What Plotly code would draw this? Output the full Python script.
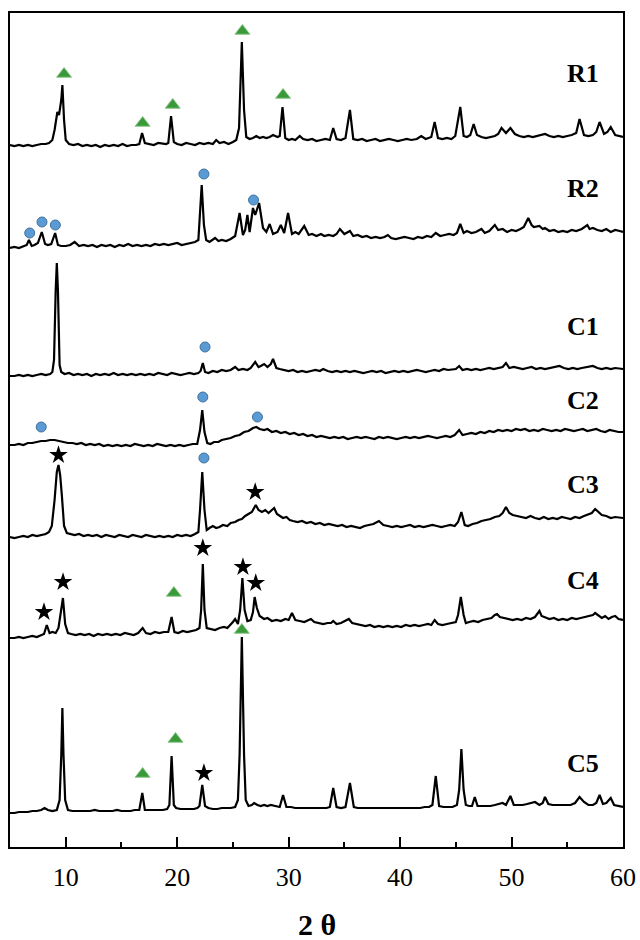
import plotly.graph_objects as go

# ---------------- data: (2θ in degrees, intensity in a.u. above each pattern's zero) -------------
samples = ["R1", "R2", "C1", "C2", "C3", "C4", "C5"]
offsets = [697, 597, 467, 397, 307, 207, 32]   # vertical stacking offset of each pattern

R1 = [(5.0, 5), (5.4, 4), (5.8, 5), (6.2, 4), (6.6, 5), (7.0, 4), (7.4, 5), (7.8, 6), (8.2, 6), (8.5, 7), (8.8, 10),
      (9.0, 20), (9.25, 38), (9.4, 35), (9.6, 50), (9.7, 65), (9.85, 30), (10.0, 10), (10.3, 6), (10.7, 5), (11.1, 6),
      (11.5, 4), (11.9, 5), (12.3, 4), (12.7, 5), (13.1, 3), (13.5, 5), (13.9, 4), (14.3, 5), (14.7, 4), (15.1, 6),
      (15.5, 4), (15.9, 5), (16.3, 5), (16.6, 6), (16.85, 17), (17.1, 7), (17.5, 6), (17.9, 5), (18.3, 7), (18.7, 6),
      (19.0, 6), (19.2, 7), (19.45, 34), (19.7, 8), (20.0, 6), (20.4, 5), (20.8, 7), (21.2, 6), (21.6, 5), (22.0, 7),
      (22.4, 6), (22.8, 7), (23.2, 6), (23.5, 10), (23.8, 7), (24.2, 8), (24.6, 6), (25.0, 8), (25.3, 10),
      (25.55, 22), (25.8, 108), (26.0, 40), (26.2, 13), (26.5, 11), (26.8, 12), (27.1, 14), (27.4, 12), (27.7, 13),
      (28.0, 12), (28.3, 13), (28.6, 15), (29.0, 13), (29.2, 14), (29.45, 43), (29.7, 12), (30.0, 10), (30.3, 11),
      (30.6, 10), (31.0, 14), (31.3, 11), (31.7, 10), (32.1, 11), (32.5, 9), (32.9, 10), (33.3, 11), (33.7, 10),
      (34.0, 22), (34.3, 11), (34.7, 10), (35.1, 12), (35.5, 40), (35.8, 11), (36.2, 10), (36.6, 11), (37.0, 9),
      (37.4, 10), (37.8, 11), (38.2, 9), (38.6, 10), (39.0, 11), (39.4, 10), (39.8, 9), (40.2, 10), (40.6, 11),
      (41.0, 10), (41.5, 11), (41.9, 14), (42.3, 11), (42.8, 13), (43.1, 28), (43.4, 12), (43.8, 11), (44.2, 12),
      (44.6, 11), (44.95, 14), (45.4, 43), (45.7, 14), (46.0, 13), (46.3, 15), (46.6, 26), (46.9, 15), (47.3, 13),
      (47.7, 12), (48.1, 13), (48.5, 14), (48.8, 16), (49.1, 22), (49.5, 17), (49.9, 22), (50.3, 16), (50.7, 14),
      (51.1, 13), (51.5, 14), (51.9, 13), (52.3, 14), (52.7, 15), (53.0, 16), (53.4, 14), (53.8, 13), (54.2, 14),
      (54.6, 13), (55.0, 14), (55.4, 15), (55.8, 17), (56.1, 31), (56.5, 15), (56.9, 14), (57.3, 15), (57.6, 18),
      (57.9, 28), (58.3, 16), (58.6, 18), (58.9, 23), (59.3, 15), (59.7, 14), (60.0, 13)]

R2 = [(5.0, 2), (5.4, 3), (5.8, 2), (6.2, 4), (6.5, 5), (6.7, 10), (6.95, 4), (7.2, 5), (7.5, 7), (7.85, 18),
      (8.15, 6), (8.4, 5), (8.7, 6), (9.05, 17), (9.3, 5), (9.6, 4), (10.0, 4), (10.4, 5), (10.8, 8), (11.2, 4),
      (11.6, 5), (12.0, 4), (12.4, 5), (12.8, 3), (13.2, 5), (13.6, 4), (14.0, 5), (14.4, 3), (14.8, 5), (15.2, 4),
      (15.6, 6), (16.0, 4), (16.4, 5), (16.8, 4), (17.2, 5), (17.6, 4), (18.0, 6), (18.4, 5), (18.8, 6), (19.2, 5),
      (19.6, 6), (20.0, 7), (20.4, 5), (20.8, 6), (21.2, 7), (21.6, 8), (21.9, 10), (22.05, 35), (22.2, 65),
      (22.4, 25), (22.6, 10), (22.9, 8), (23.2, 10), (23.4, 12), (23.7, 9), (24.0, 10), (24.4, 9), (24.8, 11),
      (25.2, 14), (25.6, 37), (25.9, 15), (26.1, 20), (26.3, 35), (26.5, 18), (26.8, 42), (27.0, 35), (27.35, 47),
      (27.7, 22), (28.0, 18), (28.3, 26), (28.6, 16), (29.0, 18), (29.3, 25), (29.6, 17), (29.95, 37), (30.3, 16),
      (30.6, 18), (30.9, 16), (31.4, 24), (31.8, 15), (32.1, 16), (32.5, 14), (32.9, 16), (33.2, 14), (33.6, 15),
      (34.0, 14), (34.3, 16), (34.6, 21), (35.0, 16), (35.5, 19), (35.8, 14), (36.2, 15), (36.6, 13), (37.0, 14),
      (37.4, 12), (37.8, 13), (38.2, 12), (38.6, 13), (38.9, 15), (39.2, 12), (39.6, 11), (40.0, 12), (40.4, 13),
      (40.8, 12), (41.2, 11), (41.6, 13), (42.0, 12), (42.4, 14), (42.8, 13), (43.2, 17), (43.6, 14), (44.0, 15),
      (44.4, 16), (44.8, 15), (45.1, 17), (45.4, 26), (45.7, 17), (46.0, 19), (46.4, 17), (46.8, 18), (47.3, 21),
      (47.6, 17), (48.0, 19), (48.5, 25), (48.8, 20), (49.2, 21), (49.6, 18), (50.0, 20), (50.4, 19), (50.8, 21),
      (51.1, 23), (51.5, 32), (51.8, 25), (52.0, 23), (52.5, 24), (52.8, 21), (53.0, 22), (53.4, 19), (53.8, 20),
      (54.2, 18), (54.6, 19), (55.0, 18), (55.4, 20), (55.8, 19), (56.3, 21), (56.8, 25), (57.0, 21), (57.3, 22),
      (57.7, 20), (58.1, 19), (58.5, 21), (58.9, 18), (59.3, 20), (59.7, 19), (60.0, 18)]

C1 = [(5.0, 4), (5.4, 4), (5.8, 5), (6.2, 4), (6.6, 5), (7.0, 4), (7.4, 5), (7.8, 6), (8.2, 5), (8.6, 6), (8.8, 8),
      (8.95, 20), (9.1, 90), (9.2, 117), (9.3, 90), (9.45, 15), (9.6, 8), (9.9, 6), (10.3, 7), (10.7, 5), (11.1, 6),
      (11.5, 5), (11.9, 6), (12.3, 4), (12.7, 6), (13.1, 5), (13.5, 6), (13.9, 5), (14.3, 7), (14.7, 5), (15.1, 6),
      (15.5, 5), (15.9, 6), (16.3, 5), (16.7, 6), (17.1, 5), (17.5, 6), (17.9, 5), (18.3, 7), (18.7, 6), (19.1, 5),
      (19.5, 7), (19.9, 6), (20.3, 5), (20.7, 6), (21.1, 7), (21.5, 6), (21.9, 7), (22.1, 9), (22.3, 17), (22.5, 8),
      (22.8, 7), (23.2, 9), (23.6, 8), (24.0, 10), (24.4, 9), (24.8, 10), (25.2, 13), (25.5, 10), (25.9, 11),
      (26.3, 10), (26.6, 12), (27.0, 18), (27.3, 13), (27.5, 14), (27.8, 16), (28.1, 13), (28.4, 16), (28.6, 21),
      (28.9, 12), (29.2, 11), (29.6, 10), (30.0, 9), (30.4, 10), (30.8, 8), (31.2, 9), (31.6, 8), (32.0, 9),
      (32.4, 10), (32.8, 9), (33.1, 11), (33.5, 9), (33.9, 8), (34.3, 9), (34.7, 8), (35.1, 9), (35.5, 8), (35.9, 9),
      (36.3, 8), (36.7, 7), (37.1, 8), (37.5, 9), (37.9, 8), (38.3, 9), (38.7, 7), (39.1, 8), (39.5, 9), (39.9, 8),
      (40.3, 9), (40.7, 8), (41.1, 9), (41.5, 10), (41.9, 9), (42.3, 8), (42.7, 9), (43.1, 10), (43.5, 9), (43.9, 11),
      (44.3, 10), (44.7, 11), (45.0, 11), (45.3, 14), (45.6, 10), (46.0, 11), (46.4, 10), (46.8, 11), (47.2, 10),
      (47.6, 11), (48.0, 12), (48.4, 11), (48.8, 12), (49.2, 13), (49.5, 17), (49.8, 12), (50.2, 13), (50.6, 12),
      (51.0, 11), (51.4, 12), (51.8, 13), (52.2, 11), (52.6, 12), (53.0, 11), (53.4, 12), (53.8, 13), (54.3, 14),
      (54.7, 12), (55.1, 11), (55.5, 12), (55.9, 11), (56.3, 12), (56.7, 13), (57.0, 13), (57.3, 14), (57.7, 12),
      (58.1, 11), (58.5, 12), (58.9, 11), (59.3, 12), (59.7, 11), (60.0, 11)]

C2 = [(5.0, 5), (5.4, 5), (5.8, 6), (6.2, 5), (6.6, 7), (7.0, 7), (7.4, 8), (7.8, 9), (8.2, 9), (8.6, 10), (9.0, 10),
      (9.4, 9), (9.8, 8), (10.2, 7), (10.6, 7), (11.0, 6), (11.4, 7), (11.8, 5), (12.2, 6), (12.6, 5), (13.0, 6),
      (13.4, 4), (13.8, 5), (14.2, 4), (14.6, 5), (15.0, 4), (15.4, 5), (15.8, 4), (16.2, 6), (16.6, 5), (17.0, 4),
      (17.4, 5), (17.8, 4), (18.2, 6), (18.6, 5), (19.0, 4), (19.4, 5), (19.8, 4), (20.2, 5), (20.6, 4), (21.0, 5),
      (21.4, 6), (21.8, 6), (22.05, 20), (22.25, 40), (22.45, 18), (22.7, 7), (23.0, 6), (23.3, 8), (23.7, 8),
      (24.0, 10), (24.4, 11), (24.8, 12), (25.2, 14), (25.6, 15), (26.0, 18), (26.4, 19), (26.8, 22), (27.1, 23),
      (27.4, 21), (27.8, 20), (28.1, 21), (28.5, 18), (28.9, 19), (29.3, 17), (29.7, 18), (30.1, 16), (30.5, 17),
      (30.9, 15), (31.3, 16), (31.7, 14), (32.1, 15), (32.5, 13), (32.9, 14), (33.3, 13), (33.7, 12), (34.1, 13),
      (34.5, 12), (34.9, 13), (35.3, 11), (35.7, 12), (36.1, 13), (36.5, 12), (36.9, 13), (37.3, 12), (37.7, 11),
      (38.1, 13), (38.5, 12), (38.9, 13), (39.3, 12), (39.7, 11), (40.1, 12), (40.5, 13), (40.9, 12), (41.3, 13),
      (41.7, 12), (42.1, 13), (42.5, 14), (42.9, 13), (43.3, 12), (43.7, 13), (44.1, 14), (44.5, 13), (44.9, 15),
      (45.3, 20), (45.6, 15), (46.0, 16), (46.4, 17), (46.8, 16), (47.2, 18), (47.6, 17), (48.0, 19), (48.4, 18),
      (48.8, 20), (49.2, 19), (49.6, 20), (50.0, 19), (50.4, 21), (50.8, 20), (51.2, 21), (51.6, 19), (52.0, 20),
      (52.4, 19), (52.8, 21), (53.2, 20), (53.6, 19), (54.0, 20), (54.4, 19), (54.8, 21), (55.2, 20), (55.6, 19),
      (56.0, 20), (56.4, 21), (56.8, 19), (57.2, 20), (57.6, 21), (58.0, 19), (58.4, 18), (58.8, 20), (59.2, 19),
      (59.6, 18), (60.0, 18)]

C3 = [(5.0, 3), (5.4, 2), (5.8, 3), (6.2, 4), (6.6, 3), (7.0, 5), (7.4, 4), (7.8, 5), (8.2, 6), (8.5, 8), (8.75, 14),
      (9.0, 40), (9.2, 68), (9.35, 75), (9.5, 65), (9.65, 45), (9.85, 14), (10.1, 7), (10.4, 6), (10.8, 5), (11.2, 6),
      (11.6, 4), (12.0, 5), (12.4, 4), (12.8, 5), (13.2, 3), (13.6, 5), (14.0, 4), (14.4, 3), (14.8, 5), (15.2, 4),
      (15.6, 3), (16.0, 5), (16.4, 4), (16.8, 3), (17.2, 5), (17.6, 4), (18.0, 3), (18.4, 4), (18.8, 3), (19.2, 4),
      (19.6, 3), (20.0, 5), (20.4, 4), (20.8, 5), (21.2, 4), (21.6, 6), (21.9, 8), (22.05, 30), (22.25, 68),
      (22.45, 30), (22.65, 10), (22.9, 12), (23.2, 14), (23.5, 12), (23.8, 13), (24.1, 15), (24.5, 14), (24.8, 17),
      (25.2, 18), (25.5, 20), (25.8, 21), (26.1, 24), (26.4, 26), (26.7, 28), (27.05, 35), (27.3, 30), (27.6, 28),
      (27.9, 30), (28.2, 27), (28.45, 30), (28.7, 32), (28.95, 26), (29.2, 24), (29.5, 22), (29.8, 23), (30.1, 20),
      (30.4, 19), (30.8, 18), (31.2, 19), (31.6, 17), (32.0, 18), (32.4, 16), (32.8, 17), (33.2, 15), (33.6, 16),
      (34.0, 15), (34.4, 14), (34.8, 15), (35.2, 13), (35.6, 14), (36.0, 13), (36.4, 12), (36.8, 14), (37.2, 15),
      (37.6, 16), (38.1, 19), (38.5, 15), (38.9, 14), (39.3, 13), (39.7, 14), (40.1, 13), (40.5, 14), (40.9, 15),
      (41.3, 13), (41.7, 14), (42.1, 13), (42.5, 14), (42.9, 15), (43.3, 14), (43.7, 13), (44.1, 14), (44.5, 15),
      (44.9, 14), (45.2, 18), (45.5, 28), (45.8, 15), (46.1, 14), (46.5, 16), (46.9, 17), (47.3, 19), (47.7, 20),
      (48.1, 21), (48.5, 23), (48.9, 24), (49.2, 27), (49.5, 33), (49.8, 27), (50.1, 25), (50.5, 24), (50.9, 23),
      (51.3, 22), (51.7, 24), (52.1, 22), (52.5, 21), (52.9, 23), (53.3, 21), (53.7, 22), (54.1, 21), (54.5, 23),
      (54.9, 22), (55.3, 21), (55.7, 23), (56.1, 22), (56.5, 24), (56.9, 26), (57.2, 27), (57.5, 31), (57.8, 28),
      (58.1, 25), (58.5, 24), (58.9, 22), (59.3, 23), (59.7, 22), (60.0, 22)]

C4 = [(5.0, 2), (5.4, 2), (5.8, 3), (6.2, 2), (6.6, 3), (7.0, 4), (7.4, 3), (7.8, 5), (8.05, 6), (8.3, 15),
      (8.55, 7), (8.8, 8), (9.1, 7), (9.35, 12), (9.55, 25), (9.75, 42), (9.95, 16), (10.2, 7), (10.5, 6), (10.9, 5),
      (11.3, 6), (11.7, 5), (12.1, 6), (12.5, 4), (12.9, 6), (13.3, 5), (13.7, 6), (14.1, 5), (14.5, 6), (14.9, 5),
      (15.3, 7), (15.7, 6), (16.1, 5), (16.5, 7), (16.9, 12), (17.2, 7), (17.6, 6), (18.0, 8), (18.4, 7), (18.8, 8),
      (19.2, 8), (19.5, 23), (19.75, 8), (20.1, 7), (20.5, 9), (20.9, 8), (21.3, 9), (21.7, 10), (22.0, 12),
      (22.15, 30), (22.3, 76), (22.45, 30), (22.65, 12), (23.0, 11), (23.4, 10), (23.8, 12), (24.2, 13), (24.5, 12),
      (24.8, 15), (25.0, 18), (25.2, 21), (25.45, 16), (25.65, 30), (25.85, 62), (26.05, 30), (26.3, 19), (26.6, 20),
      (26.8, 28), (26.95, 43), (27.15, 32), (27.4, 24), (27.8, 21), (28.1, 22), (28.5, 19), (28.9, 20), (29.3, 19),
      (29.7, 21), (30.0, 20), (30.3, 27), (30.6, 20), (31.0, 19), (31.4, 18), (31.8, 20), (32.0, 21), (32.3, 18),
      (32.7, 17), (33.1, 16), (33.5, 17), (33.8, 17), (34.0, 19), (34.3, 16), (34.7, 17), (35.1, 19), (35.4, 21),
      (35.7, 17), (36.1, 16), (36.5, 15), (36.9, 14), (37.3, 15), (37.7, 13), (38.1, 14), (38.5, 13), (38.9, 14),
      (39.3, 13), (39.7, 14), (40.1, 13), (40.5, 15), (40.9, 14), (41.3, 15), (41.7, 14), (42.1, 15), (42.5, 16),
      (42.8, 15), (43.1, 20), (43.4, 16), (43.8, 15), (44.2, 16), (44.6, 17), (45.0, 18), (45.2, 25), (45.45, 43),
      (45.7, 25), (45.9, 17), (46.2, 18), (46.6, 19), (47.0, 18), (47.4, 20), (47.8, 21), (48.2, 22), (48.5, 25),
      (48.7, 26), (48.95, 23), (49.3, 22), (49.7, 21), (50.1, 20), (50.5, 21), (50.9, 20), (51.3, 22), (51.7, 21),
      (52.1, 23), (52.3, 26), (52.5, 29), (52.7, 24), (53.0, 23), (53.4, 21), (53.8, 22), (54.2, 20), (54.6, 21),
      (55.0, 20), (55.4, 22), (55.8, 21), (56.2, 22), (56.6, 23), (57.0, 24), (57.3, 25), (57.5, 27), (57.8, 24),
      (58.1, 22), (58.4, 24), (58.7, 21), (59.0, 23), (59.3, 24), (59.6, 21), (60.0, 20)]

C5 = [(5.0, 2), (5.4, 2), (5.8, 3), (6.2, 3), (6.6, 3), (7.0, 4), (7.4, 4), (7.8, 5), (8.1, 7), (8.4, 5), (8.8, 4),
      (9.2, 5), (9.45, 15), (9.6, 60), (9.7, 107), (9.8, 60), (9.95, 15), (10.2, 5), (10.6, 4), (11.0, 4), (11.4, 4),
      (11.8, 4), (12.2, 4), (12.6, 5), (13.0, 4), (13.4, 4), (13.8, 4), (14.2, 4), (14.6, 5), (15.0, 4), (15.4, 4),
      (15.8, 4), (16.2, 5), (16.6, 5), (16.87, 22), (17.1, 5), (17.5, 5), (17.9, 5), (18.3, 5), (18.7, 5), (19.1, 6),
      (19.3, 10), (19.5, 59), (19.7, 10), (19.9, 7), (20.3, 6), (20.7, 6), (21.1, 6), (21.5, 6), (21.8, 7), (22.0, 9),
      (22.25, 30), (22.5, 9), (22.8, 7), (23.2, 6), (23.6, 6), (24.0, 7), (24.4, 7), (24.8, 7), (25.2, 8),
      (25.45, 15), (25.6, 60), (25.8, 178), (26.0, 60), (26.15, 15), (26.4, 9), (26.7, 10), (26.9, 12), (27.2, 10),
      (27.5, 9), (27.8, 10), (28.1, 9), (28.4, 10), (28.8, 9), (29.2, 8), (29.5, 20), (29.8, 8), (30.2, 8), (30.6, 7),
      (31.0, 7), (31.4, 7), (31.8, 7), (32.2, 7), (32.6, 7), (33.0, 7), (33.4, 7), (33.7, 8), (34.0, 27), (34.3, 8),
      (34.7, 7), (35.1, 8), (35.5, 32), (35.85, 8), (36.2, 7), (36.6, 7), (37.0, 7), (37.4, 7), (37.8, 7), (38.2, 7),
      (38.6, 7), (39.0, 7), (39.4, 7), (39.8, 7), (40.2, 7), (40.6, 7), (41.0, 7), (41.4, 7), (41.8, 7), (42.2, 8),
      (42.6, 8), (42.9, 10), (43.2, 39), (43.5, 9), (43.9, 8), (44.3, 8), (44.7, 8), (45.1, 10), (45.3, 25),
      (45.5, 66), (45.7, 25), (45.9, 10), (46.2, 9), (46.45, 9), (46.7, 18), (46.95, 9), (47.3, 9), (47.7, 9),
      (48.1, 9), (48.5, 10), (48.9, 11), (49.2, 12), (49.5, 10), (49.9, 19), (50.2, 10), (50.6, 10), (51.0, 10),
      (51.4, 11), (51.8, 12), (52.1, 13), (52.5, 10), (52.8, 12), (53.0, 18), (53.3, 11), (53.7, 10), (54.1, 10),
      (54.5, 10), (54.9, 10), (55.3, 10), (55.7, 12), (56.1, 18), (56.5, 13), (56.9, 10), (57.3, 10), (57.6, 12),
      (57.9, 20), (58.2, 11), (58.5, 12), (58.9, 17), (59.2, 10), (59.6, 9), (60.0, 8)]

patterns = [R1, R2, C1, C2, C3, C4, C5]

# phase markers: sample, 2θ, intensity (a.u. above that pattern's zero)
tri_sample = ["R1", "R1", "R1", "R1", "R1", "C4", "C5", "C5", "C5"]
tri_tt = [9.85, 16.9, 19.6, 25.85, 29.5, 19.7, 16.9, 19.85, 25.8]
tri_I = [76, 27, 45, 119, 55, 47, 41, 76, 185]

cir_sample = ["R2", "R2", "R2", "R2", "R2", "C1", "C2", "C2", "C2", "C3"]
cir_tt = [6.77, 7.87, 9.07, 22.4, 26.85, 22.5, 7.8, 22.3, 27.2, 22.4]
cir_I = [17, 28, 25, 76, 50, 33, 23, 53, 33, 82]

star_sample = ["C3", "C3", "C4", "C4", "C4", "C4", "C4", "C5"]
star_tt = [9.35, 27.0, 8.05, 9.76, 22.3, 25.9, 27.05, 22.4]
star_I = [85, 48, 28, 58, 92, 73, 57, 42]

label_I = [77, 62, 54, 50, 56, 60, 52]   # label heights above each pattern's zero

x_ticks = [10, 20, 30, 40, 50, 60]

# ---------------- figure ----------------
SERIF = "Liberation Serif, Times New Roman, serif"
off = dict(zip(samples, offsets))
fig = go.Figure()

for name, pts in zip(samples, patterns):
    tt = [p[0] for p in pts]
    inten = [p[1] + off[name] for p in pts]
    fig.add_trace(go.Scatter(x=tt, y=inten, mode="lines", line=dict(color="black", width=2.2),
                             showlegend=False, hoverinfo="skip"))

fig.add_trace(go.Scatter(x=tri_tt, y=[v + off[s] for s, v in zip(tri_sample, tri_I)], mode="markers",
                         marker=dict(symbol="triangle-up", size=13, color="#3a9a3a",
                                     line=dict(color="#8cc68c", width=1)), showlegend=False))
fig.add_trace(go.Scatter(x=cir_tt, y=[v + off[s] for s, v in zip(cir_sample, cir_I)], mode="markers",
                         marker=dict(symbol="circle", size=10, color="#5b9bd5",
                                     line=dict(color="#41719c", width=1)), showlegend=False))
fig.add_trace(go.Scatter(x=star_tt, y=[v + off[s] for s, v in zip(star_sample, star_I)], mode="markers",
                         marker=dict(symbol="star", size=14, color="black", line=dict(width=0)),
                         showlegend=False))

for name, h in zip(samples, label_I):
    fig.add_annotation(x=54.8, y=off[name] + h, text=f"<b>{name}</b>", showarrow=False,
                       xanchor="left", yanchor="middle",
                       font=dict(family=SERIF, size=26, color="black"))

fig.add_annotation(x=0.5, y=-0.093, xref="paper", yref="paper", text="<b>2 θ</b>", showarrow=False,
                   xanchor="center", yanchor="middle",
                   font=dict(family=SERIF, size=30, color="black"))

fig.update_xaxes(range=[5, 60], tickvals=x_ticks, ticks="inside", ticklen=10, tickwidth=1.5, tickcolor="black",
                 minor=dict(ticks="inside", ticklen=5, tickwidth=1.5, tickcolor="black", dtick=5, tick0=5),
                 showline=True, linecolor="black", linewidth=2, mirror=True, showgrid=False, zeroline=False,
                 automargin=False, ticklabelstandoff=6,
                 tickfont=dict(family=SERIF, size=26, color="black"))
fig.update_yaxes(range=[0, 834], showticklabels=False, ticks="", showline=True, linecolor="black", linewidth=2,
                 mirror=True, showgrid=False, zeroline=False, automargin=False)

fig.update_layout(width=640, height=940, margin=dict(l=10, r=17, t=13, b=93),
                  plot_bgcolor="white", paper_bgcolor="white")

fig.write_html("out.html")
